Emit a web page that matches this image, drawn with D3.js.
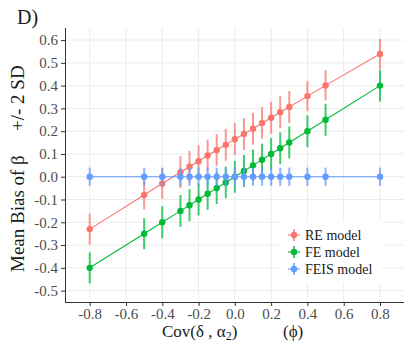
<!DOCTYPE html>
<html><head><meta charset="utf-8">
<script src="https://cdn.jsdelivr.net/npm/d3@7"></script>
<style>body{margin:0;background:#fff}svg{display:block}svg text{font-family:"Liberation Serif","Times New Roman",serif !important}</style>
</head><body><svg id="c" width="404" height="342"></svg>
<script>
const phi = [-0.8,-0.5,-0.4,-0.3,-0.25,-0.2,-0.15,-0.1,-0.05,0,0.05,0.1,0.15,0.2,0.25,0.3,0.4,0.5,0.8];
const reBias = [-0.23,-0.08,-0.03,0.02,0.044,0.068,0.093,0.117,0.14,0.165,0.188,0.211,0.236,0.259,0.283,0.306,0.354,0.401,0.539];
const reSD2  = [0.068,0.064,0.066,0.07,0.07,0.07,0.07,0.07,0.07,0.07,0.07,0.07,0.07,0.07,0.07,0.07,0.066,0.066,0.066];
const feBias = [-0.4,-0.25,-0.2,-0.15,-0.125,-0.1,-0.075,-0.05,-0.025,0,0.025,0.05,0.075,0.1,0.125,0.15,0.2,0.25,0.4];
const feSD2  = [0.068,0.068,0.07,0.07,0.07,0.07,0.07,0.07,0.07,0.07,0.07,0.07,0.07,0.07,0.07,0.07,0.07,0.07,0.07];
const feisBias = [0,0,0,0,0,0,0,0,0,0,0,0,0,0,0,0,0,0,0];
const feisSD2  = [0.04,0.04,0.04,0.04,0.04,0.04,0.04,0.04,0.04,0.04,0.04,0.04,0.04,0.04,0.04,0.04,0.04,0.04,0.04];
const seriesNames = ["RE model","FE model","FEIS model"];
const seriesColors = ["#F8766D","#00BA38","#619CFF"];
const xTicks = [-0.8,-0.6,-0.4,-0.2,0,0.2,0.4,0.6,0.8];
const xTickLabels = ["-0.8","-0.6","-0.4","-0.2","0.0","0.2","0.4","0.6","0.8"];
const yTicks = [-0.5,-0.4,-0.3,-0.2,-0.1,0,0.1,0.2,0.3,0.4,0.5,0.6];
const yTickLabels = ["-0.5","-0.4","-0.3","-0.2","-0.1","0.0","0.1","0.2","0.3","0.4","0.5","0.6"];

const series = [
  {name:seriesNames[0], color:seriesColors[0], y:reBias, e:reSD2},
  {name:seriesNames[1], color:seriesColors[1], y:feBias, e:feSD2},
  {name:seriesNames[2], color:seriesColors[2], y:feisBias, e:feisSD2}
];

const L=65,R=404,T=28,B=302;
const x = d3.scaleLinear()
  .domain([-0.8 - (89.7-L)/181.4, 0.8 + (R-380)/181.4]).range([L,R]);
const y = d3.scaleLinear().domain([-0.55,0.653]).range([B,T]);

const svg = d3.select("#c");

// grid
const g = svg.append("g");
g.selectAll(".gx").data(xTicks).join("line")
  .attr("x1",d=>x(d)).attr("x2",d=>x(d)).attr("y1",T).attr("y2",B)
  .attr("stroke","#ebebeb").attr("stroke-width",1);
g.selectAll(".gy").data(yTicks).join("line")
  .attr("x1",L).attr("x2",R).attr("y1",d=>y(d)).attr("y2",d=>y(d))
  .attr("stroke","#ebebeb").attr("stroke-width",1);

// axes
const xAxis = d3.axisBottom(x).tickValues(xTicks).tickFormat((d,i)=>xTickLabels[i]).tickSize(4).tickSizeOuter(0).tickPadding(2);
const yAxis = d3.axisLeft(y).tickValues(yTicks).tickFormat((d,i)=>yTickLabels[i]).tickSize(4).tickSizeOuter(0).tickPadding(3);
const gx = svg.append("g").attr("transform",`translate(0,${B})`).call(xAxis);
const gy = svg.append("g").attr("transform",`translate(${L},0)`).call(yAxis);
[gx,gy].forEach(a=>{
  a.attr("font-family",null);
  a.select(".domain").attr("stroke","#333").attr("stroke-width",1);
  a.selectAll(".tick line").attr("stroke","#333");
  a.selectAll(".tick text").attr("fill","#4d4d4d").style("font-size","15px");
});
gx.select(".domain").attr("d",`M${L},0.5H${R}`);
gy.select(".domain").attr("d",`M0.5,${T}V${B}`);

// series
const line = d3.line().x(d=>x(d[0])).y(d=>y(d[1]));
series.forEach(s=>{
  const pts = phi.map((p,i)=>[p,s.y[i],s.e[i]]);
  const sg = svg.append("g");
  sg.append("path").datum(pts).attr("d",line).attr("fill","none").attr("stroke",s.color).attr("stroke-width",1.1);
  sg.selectAll("line.eb").data(pts).join("line")
    .attr("x1",d=>x(d[0])).attr("x2",d=>x(d[0]))
    .attr("y1",d=>y(d[1]-d[2])).attr("y2",d=>y(d[1]+d[2]))
    .attr("stroke",s.color).attr("stroke-width",2).attr("stroke-opacity",0.75);
  sg.selectAll("circle").data(pts).join("circle")
    .attr("cx",d=>x(d[0])).attr("cy",d=>y(d[1])).attr("r",3.2).attr("fill",s.color);
});

// legend
const lg = svg.append("g");
lg.append("rect").attr("x",280).attr("y",222).attr("width",102).attr("height",61).attr("fill","#fff");
series.forEach((s,i)=>{
  const cy = 235 + i*17, cx = 294;
  lg.append("line").attr("x1",cx-6).attr("x2",cx+6).attr("y1",cy).attr("y2",cy).attr("stroke",s.color).attr("stroke-width",1.1);
  lg.append("line").attr("x1",cx).attr("x2",cx).attr("y1",cy-6).attr("y2",cy+6).attr("stroke",s.color).attr("stroke-width",2).attr("stroke-opacity",0.75);
  lg.append("circle").attr("cx",cx).attr("cy",cy).attr("r",3.2).attr("fill",s.color);
  lg.append("text").attr("x",305).attr("y",cy+5).style("font-size","14px").attr("fill","#1a1a1a").text(s.name);
});

// title
svg.append("text").attr("x",17).attr("y",24).style("font-size","20px").attr("fill","#1a1a1a").text("D)");

// x title
const xt = svg.append("text").attr("y",337).style("font-size","17px").attr("fill","#1a1a1a");
xt.append("tspan").attr("x",162).text("Cov(δ , α");
xt.append("tspan").style("font-size","12px").attr("dy",3).text("2");
xt.append("tspan").attr("dy",-3).text(")");
svg.append("text").attr("x",283).attr("y",337).style("font-size","17px").attr("fill","#1a1a1a").text("(ϕ)");

// y title
const yt = svg.append("text").attr("transform","rotate(-90)").attr("y",24).style("font-size","19px").attr("fill","#1a1a1a");
yt.append("tspan").attr("x",-272).text("Mean Bias of β");
yt.append("tspan").attr("x",-131).text("+/- 2 SD");
</script></body></html>
